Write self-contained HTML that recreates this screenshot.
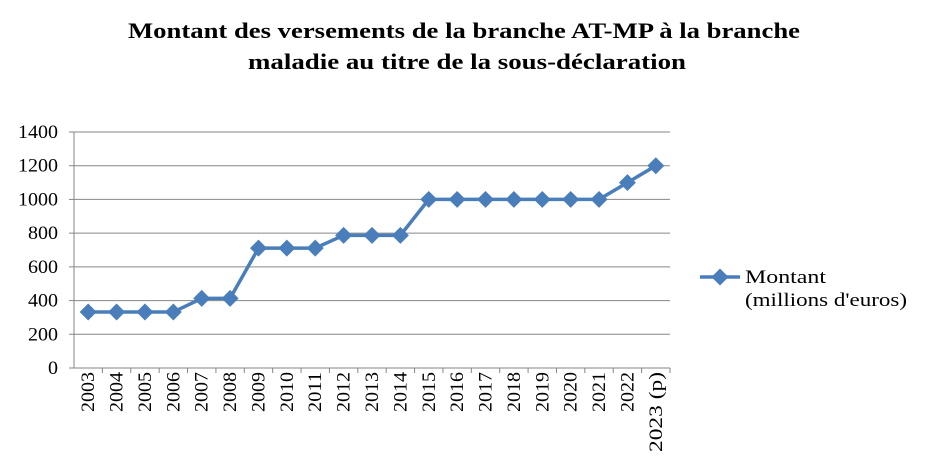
<!DOCTYPE html>
<html><head><meta charset="utf-8"><style>
body{margin:0;background:#fff;}
svg text{font-family:"Liberation Serif",serif;fill:#000;}
</style></head><body>
<svg width="929" height="469" xmlns="http://www.w3.org/2000/svg">
<text x="128" y="38" font-size="22" font-weight="bold" textLength="672" lengthAdjust="spacingAndGlyphs">Montant des versements de la branche AT-MP à la branche</text>
<text x="248" y="69" font-size="22" font-weight="bold" textLength="438" lengthAdjust="spacingAndGlyphs">maladie au titre de la sous-déclaration</text>
<g id="grid"></g><g id="axes"></g><g id="series"></g>
<g>
<line x1="700" y1="277" x2="740" y2="277" stroke="#4a7ebb" stroke-width="3.5"/>
<rect x="714" y="271" width="12" height="12" fill="#4a7ebb" transform="rotate(45 720 277)"/>
<text x="745" y="283" font-size="19" textLength="81" lengthAdjust="spacingAndGlyphs">Montant</text>
<text x="745" y="306" font-size="19" textLength="162" lengthAdjust="spacingAndGlyphs">(millions d'euros)</text>
</g>
</svg>
<script>
const categories=["2003","2004","2005","2006","2007","2008","2009","2010","2011","2012","2013","2014","2015","2016","2017","2018","2019","2020","2021","2022","2023 (p)"];
const values=[332,332,332,332,413,413,711,711,711,787,787,787,1000,1000,1000,1000,1000,1000,1000,1100,1200];
const yTicks=[0,200,400,600,800,1000,1200,1400];
const L=74,R=670,T=132,B=368,yMax=1400;
const NS="http://www.w3.org/2000/svg";
const bw=(R-L)/categories.length;
const x=i=>L+bw*(i+0.5);
const y=v=>B-(v/yMax)*(B-T);
function mk(tag,attrs,parent,txt){const e=document.createElementNS(NS,tag);for(const k in attrs)e.setAttribute(k,attrs[k]);if(txt!==undefined)e.textContent=txt;document.getElementById(parent).appendChild(e);return e;}
yTicks.forEach(t=>{
  const g=mk('line',{x1:L,x2:R,y1:y(t),y2:y(t),stroke:'#868686','stroke-width':1},'grid');
  
  
  const tk=mk('line',{x1:L-5,x2:L,y1:y(t),y2:y(t),stroke:'#868686'},'axes');
  
  
  const s=String(t);
  const lb=mk('text',{x:L-16,y:y(t)+6,'text-anchor':'end','font-size':19,textLength:s.length*10,lengthAdjust:'spacingAndGlyphs'},'axes',s);
  
  
});
const ya=mk('line',{x1:L,x2:L,y1:T,y2:B,stroke:'#868686'},'axes');


const xa=mk('line',{x1:L,x2:R,y1:B,y2:B,stroke:'#868686'},'axes');


categories.forEach((c,i)=>{
  const tx=L+bw*(i+1);
  const tk=mk('line',{x1:tx,x2:tx,y1:B,y2:B+5,stroke:'#868686'},'axes');
  
  
  const len=c.length>4?80:40;
  const lb=mk('text',{x:0,y:0,'text-anchor':'end','font-size':19,textLength:len,lengthAdjust:'spacingAndGlyphs',transform:`translate(${x(i)+6},${B+4}) rotate(-90)`},'axes',c);
  
  
});
const pl=mk('polyline',{points:values.map((v,i)=>x(i)+','+y(v)).join(' '),fill:'none',stroke:'#4a7ebb','stroke-width':3.5},'series');


values.forEach((v,i)=>{
  const m=mk('rect',{x:x(i)-6,y:y(v)-6,width:12,height:12,fill:'#4a7ebb',transform:`rotate(45 ${x(i)} ${y(v)})`},'series');
  
  
});
</script>
</body></html>
